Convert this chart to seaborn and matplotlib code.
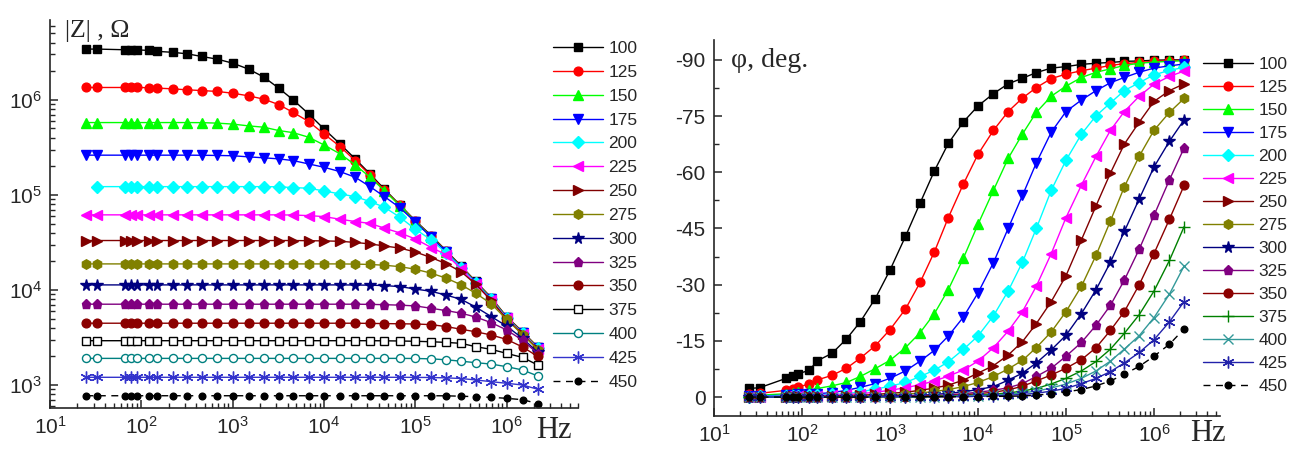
import numpy as np
import seaborn as sns
import matplotlib.pyplot as plt
from matplotlib.ticker import LogLocator, MultipleLocator, NullFormatter, FixedLocator

sns.set_style('ticks')
plt.rcParams['font.family'] = ['Liberation Sans', 'DejaVu Sans']
plt.rcParams['axes.unicode_minus'] = False

# measurement frequencies, Hz
freq_hz = [25, 33, 66, 78, 89, 120, 150, 220, 320, 460, 680, 1e3, 1.5e3, 2.2e3, 3.2e3, 4.6e3,
           6.8e3, 1e4, 1.5e4, 2.2e4, 3.2e4, 4.6e4, 6.8e4, 1e5, 1.5e5, 2.2e5, 3.2e5, 4.6e5,
           6.8e5, 1e6, 1.5e6, 2.2e6]

temps = ['100', '125', '150', '175', '200', '225', '250', '275', '300', '325', '350',
         '375', '400', '425', '450']

# log10 |Z| (Ohm)
log_z_100 = [6.534, 6.534, 6.527, 6.527, 6.526, 6.520, 6.510, 6.500, 6.484, 6.456, 6.428, 6.386,
             6.323, 6.239, 6.123, 6.000, 5.853, 5.695, 5.537, 5.379, 5.221, 5.060, 4.895, 4.730,
             4.572, 4.410, 4.250, 4.090, 3.920, 3.720, 3.560, 3.400]
log_z_125 = [6.130, 6.130, 6.130, 6.130, 6.130, 6.128, 6.123, 6.116, 6.105, 6.098, 6.088, 6.070,
             6.042, 6.007, 5.950, 5.868, 5.772, 5.642, 5.509, 5.361, 5.210, 5.050, 4.890, 4.725,
             4.565, 4.405, 4.245, 4.085, 3.915, 3.715, 3.555, 3.395]
log_z_150 = [5.761, 5.761, 5.761, 5.761, 5.761, 5.761, 5.761, 5.761, 5.761, 5.760, 5.755, 5.745,
             5.726, 5.712, 5.677, 5.655, 5.607, 5.526, 5.432, 5.316, 5.186, 5.045, 4.885, 4.720,
             4.560, 4.400, 4.240, 4.080, 3.910, 3.710, 3.550, 3.390]
log_z_175 = [5.418, 5.418, 5.418, 5.418, 5.418, 5.418, 5.418, 5.418, 5.418, 5.417, 5.415, 5.412,
             5.400, 5.390, 5.379, 5.361, 5.326, 5.291, 5.245, 5.186, 5.087, 4.982, 4.865, 4.715,
             4.555, 4.395, 4.235, 4.075, 3.905, 3.705, 3.545, 3.385]
log_z_200 = [np.nan, 5.087, 5.087, 5.087, 5.087, 5.087, 5.087, 5.087, 5.087, 5.087, 5.087, 5.087,
             5.087, 5.087, 5.085, 5.077, 5.070, 5.042, 5.010, 4.982, 4.930, 4.870, 4.765, 4.640,
             4.526, 4.386, 4.230, 4.070, 3.900, 3.705, 3.545, 3.385]
log_z_225 = [4.790, 4.790, 4.790, 4.790, 4.790, 4.790, 4.790, 4.790, 4.790, 4.790, 4.790, 4.790,
             4.790, 4.790, 4.790, 4.788, 4.782, 4.772, 4.744, 4.720, 4.700, 4.650, 4.600, 4.537,
             4.446, 4.370, 4.220, 4.060, 3.890, 3.700, 3.540, 3.380]
log_z_250 = [4.520, 4.520, 4.520, 4.520, 4.520, 4.520, 4.520, 4.520, 4.520, 4.520, 4.520, 4.520,
             4.520, 4.520, 4.520, 4.520, 4.518, 4.516, 4.512, 4.500, 4.484, 4.463, 4.440, 4.400,
             4.340, 4.275, 4.190, 4.060, 3.890, 3.695, 3.535, 3.378]
log_z_275 = [4.274, 4.274, 4.274, 4.274, 4.274, 4.274, 4.274, 4.274, 4.274, 4.274, 4.274, 4.274,
             4.274, 4.274, 4.274, 4.274, 4.274, 4.274, 4.274, 4.272, 4.268, 4.260, 4.245, 4.218,
             4.176, 4.123, 4.053, 3.965, 3.855, 3.690, 3.530, 3.372]
log_z_300 = [4.053, 4.053, 4.053, 4.053, 4.053, 4.053, 4.053, 4.053, 4.053, 4.053, 4.053, 4.053,
             4.053, 4.053, 4.053, 4.053, 4.053, 4.053, 4.053, 4.052, 4.050, 4.046, 4.035, 4.010,
             3.985, 3.945, 3.900, 3.820, 3.720, 3.620, 3.490, 3.345]
log_z_325 = [3.850, 3.850, 3.850, 3.850, 3.850, 3.850, 3.850, 3.850, 3.850, 3.850, 3.850, 3.850,
             3.850, 3.850, 3.850, 3.850, 3.850, 3.850, 3.850, 3.850, 3.848, 3.845, 3.840, 3.832,
             3.807, 3.782, 3.755, 3.715, 3.656, 3.580, 3.470, 3.330]
log_z_350 = [3.650, 3.650, 3.650, 3.650, 3.650, 3.650, 3.650, 3.650, 3.650, 3.650, 3.650, 3.650,
             3.650, 3.650, 3.650, 3.650, 3.650, 3.650, 3.650, 3.650, 3.648, 3.646, 3.644, 3.642,
             3.635, 3.614, 3.586, 3.560, 3.526, 3.480, 3.400, 3.300]
log_z_375 = [3.466, 3.466, 3.466, 3.466, 3.466, 3.466, 3.466, 3.466, 3.466, 3.466, 3.466, 3.466,
             3.466, 3.466, 3.466, 3.466, 3.466, 3.466, 3.466, 3.466, 3.466, 3.465, 3.463, 3.460,
             3.455, 3.448, 3.438, 3.403, 3.375, 3.333, 3.290, 3.210]
log_z_400 = [3.280, 3.280, 3.280, 3.280, 3.280, 3.280, 3.280, 3.280, 3.280, 3.280, 3.280, 3.280,
             3.280, 3.280, 3.280, 3.280, 3.280, 3.280, 3.280, 3.280, 3.280, 3.280, 3.280, 3.279,
             3.275, 3.265, 3.250, 3.235, 3.220, 3.193, 3.158, 3.095]
log_z_425 = [3.081, 3.081, 3.081, 3.081, 3.081, 3.081, 3.081, 3.081, 3.081, 3.081, 3.081, 3.081,
             3.081, 3.081, 3.081, 3.081, 3.081, 3.081, 3.081, 3.081, 3.081, 3.081, 3.081, 3.080,
             3.079, 3.075, 3.068, 3.053, 3.035, 3.018, 3.000, 2.955]
log_z_450 = [2.887, 2.887, 2.887, 2.887, 2.887, 2.887, 2.887, 2.887, 2.887, 2.887, 2.887, 2.887,
             2.887, 2.887, 2.887, 2.887, 2.887, 2.887, 2.887, 2.887, 2.887, 2.887, 2.887, 2.887,
             2.887, 2.886, 2.882, 2.877, 2.870, 2.860, 2.845, 2.805]

# phase angle magnitude (deg)
ph_100 = [2.3, 2.5, 5.0, 5.5, 6.2, 7.1, 9.7, 11.7, 15.5, 20.1, 26.3, 33.9, 42.9, 51.8, 60.4, 67.7,
          73.4, 77.7, 81.0, 83.6, 85.1, 86.6, 87.8, 88.2, 88.8, 89.1, 89.3, 89.6, 89.7, 89.9, 90.0, 90.0]
ph_125 = [0.8, 1.0, 1.8, 2.2, 2.6, 3.5, 4.6, 5.8, 7.7, 10.4, 13.7, 18.0, 23.5, 30.6, 38.8, 47.9,
          56.8, 64.8, 71.2, 76.2, 79.8, 82.6, 85.0, 86.2, 87.1, 87.8, 88.5, 89.0, 89.3, 89.6, 89.8, 89.9]
ph_150 = [0.3, 0.5, 0.9, 1.1, 1.3, 1.8, 2.3, 3.0, 3.9, 5.5, 7.6, 9.8, 13.2, 17.2, 22.3, 28.7,
          37.0, 46.1, 55.2, 63.7, 70.2, 76.0, 80.3, 83.0, 85.3, 86.7, 87.6, 88.5, 89.1, 89.4, 89.6, 89.8]
ph_175 = [0.2, 0.3, 0.5, 0.6, 0.7, 0.8, 0.9, 1.2, 1.8, 2.6, 3.6, 5.0, 7.0, 9.6, 12.5, 16.3,
          21.3, 27.8, 35.9, 45.0, 53.8, 62.5, 70.7, 76.2, 79.3, 81.8, 83.9, 85.3, 86.7, 87.8, 88.4, 88.9]
ph_200 = [0.1, 0.2, 0.3, 0.3, 0.4, 0.5, 0.6, 0.7, 0.9, 1.4, 2.1, 2.9, 3.9, 5.5, 7.2, 9.4,
          12.7, 16.3, 21.7, 28.3, 36.0, 45.0, 55.2, 63.2, 70.2, 75.1, 78.5, 81.8, 83.9, 86.0, 87.2, 88.0]
ph_225 = [0.1, 0.1, 0.2, 0.2, 0.3, 0.3, 0.4, 0.5, 0.7, 0.9, 1.3, 1.8, 2.5, 3.3, 4.3, 5.6,
          7.2, 9.6, 13.2, 17.6, 22.8, 29.6, 38.3, 47.9, 56.6, 64.3, 71.2, 76.2, 80.3, 83.5, 85.6, 87.0]
ph_250 = [0.1, 0.1, 0.1, 0.2, 0.2, 0.2, 0.2, 0.3, 0.4, 0.5, 0.7, 1.0, 1.3, 1.8, 2.4, 3.2,
          4.5, 6.4, 8.4, 11.2, 14.8, 19.6, 25.5, 32.4, 42.0, 51.1, 59.8, 67.5, 73.4, 78.9, 81.8, 83.6]
ph_275 = [0.0, 0.1, 0.1, 0.1, 0.1, 0.1, 0.1, 0.1, 0.2, 0.3, 0.4, 0.6, 0.8, 1.1, 1.5, 2.0,
          2.8, 3.9, 5.5, 7.5, 9.8, 13.2, 17.4, 22.8, 29.6, 37.9, 47.0, 56.1, 64.3, 71.2, 76.0, 79.7]
ph_300 = [0.0, 0.0, 0.1, 0.1, 0.1, 0.1, 0.1, 0.1, 0.1, 0.1, 0.2, 0.3, 0.4, 0.5, 0.7, 1.0,
          1.4, 2.0, 2.8, 4.5, 6.4, 9.1, 12.6, 16.5, 22.3, 28.7, 36.0, 44.2, 52.9, 61.4, 68.3, 74.0]
ph_325 = [0.0, 0.0, 0.0, 0.1, 0.1, 0.1, 0.1, 0.1, 0.1, 0.1, 0.1, 0.1, 0.2, 0.3, 0.4, 0.6,
          0.9, 1.3, 1.8, 2.5, 3.6, 5.5, 7.7, 10.9, 14.6, 19.2, 24.5, 31.2, 39.5, 48.5, 58.0, 66.5]
ph_350 = [0.0, 0.0, 0.0, 0.0, 0.1, 0.1, 0.1, 0.1, 0.1, 0.1, 0.1, 0.1, 0.1, 0.2, 0.3, 0.4,
          0.6, 0.9, 1.3, 1.9, 2.9, 4.3, 5.9, 7.7, 10.0, 13.2, 17.8, 22.8, 30.0, 38.3, 47.5, 56.5]
ph_375 = [0.0, 0.0, 0.0, 0.0, 0.0, 0.0, 0.1, 0.1, 0.1, 0.1, 0.1, 0.1, 0.1, 0.1, 0.2, 0.3,
          0.4, 0.5, 0.8, 1.1, 1.6, 2.3, 3.5, 5.0, 7.0, 9.5, 12.8, 17.0, 22.0, 28.3, 36.5, 45.5]
ph_400 = [0.0, 0.0, 0.0, 0.0, 0.0, 0.0, 0.0, 0.1, 0.1, 0.1, 0.1, 0.1, 0.1, 0.1, 0.1, 0.2,
          0.3, 0.4, 0.5, 0.8, 1.1, 1.6, 2.4, 3.5, 5.0, 7.0, 9.6, 12.8, 16.4, 21.2, 27.5, 35.0]
ph_425 = [0.0, 0.0, 0.0, 0.0, 0.0, 0.0, 0.0, 0.0, 0.0, 0.1, 0.1, 0.1, 0.1, 0.1, 0.1, 0.1,
          0.1, 0.2, 0.3, 0.5, 0.7, 1.0, 1.6, 2.3, 3.6, 5.0, 6.8, 9.1, 11.9, 15.3, 20.1, 25.5]
ph_450 = [0.0, 0.0, 0.0, 0.0, 0.0, 0.0, 0.0, 0.0, 0.0, 0.0, 0.0, 0.1, 0.1, 0.1, 0.1, 0.1,
          0.1, 0.1, 0.2, 0.2, 0.3, 0.5, 0.9, 1.4, 2.0, 3.0, 4.3, 6.1, 8.2, 10.9, 14.1, 18.2]

log_z = [log_z_100, log_z_125, log_z_150, log_z_175, log_z_200, log_z_225, log_z_250, log_z_275,
         log_z_300, log_z_325, log_z_350, log_z_375, log_z_400, log_z_425, log_z_450]
phase = [ph_100, ph_125, ph_150, ph_175, ph_200, ph_225, ph_250, ph_275, ph_300, ph_325, ph_350,
         ph_375, ph_400, ph_425, ph_450]

ast = (6, 2, 0)
# (colour, marker, face, size) for each temperature
common = [('#000000', 's', None, 5.8), ('#FF0000', 'o', None, 6.3), ('#00FF00', '^', None, 6.8),
          ('#0000FF', 'v', None, 6.8), ('#00FFFF', 'D', None, 5.8), ('#FF00FF', '<', None, 6.8),
          ('#800000', '>', None, 6.8), ('#808000', 'h', None, 6.8), ('#000080', '*', None, 8.5),
          ('#800080', 'p', None, 6.8), ('#8B0000', 'o', None, 6.3)]
left_styles = common + [('#000000', 's', 'white', 5.8), ('#008080', 'o', 'white', 5.8),
                        ('#3333CC', ast, None, 8.5), ('#000000', 'o', None, 4.8)]
right_styles = common + [('#008000', '+', None, 8.5), ('#339999', 'x', None, 7.5),
                         ('#2222AA', ast, None, 8.5), ('#000000', 'o', None, 4.8)]

W, H = 1295, 450
fig = plt.figure(figsize=(W / 100, H / 100), dpi=100)
ax1 = fig.add_axes([50 / W, 1 - 408 / H, 528 / W, 388 / H])
ax2 = fig.add_axes([714 / W, 1 - 416 / H, 506 / W, 376 / H])


def draw(ax, series, styles):
    for lab, y, (c, m, fc, ms) in zip(temps, series, styles):
        ls = (0, (5, 4)) if lab == '450' else '-'
        sns.lineplot(x=freq_hz, y=y, ax=ax, color=c, marker=m, markersize=ms,
                     markerfacecolor=fc if fc else c, markeredgecolor=c, markeredgewidth=1,
                     linestyle=ls, linewidth=1, label=lab, estimator=None, sort=False)


draw(ax1, [10 ** np.array(v) for v in log_z], left_styles)
draw(ax2, [-np.array(v) for v in phase], right_styles)

for ax in (ax1, ax2):
    ax.set_xscale('log')
    ax.xaxis.set_major_locator(LogLocator(base=10, numticks=12))
    ax.xaxis.set_minor_locator(LogLocator(base=10, subs=np.arange(2, 10), numticks=12))
    ax.xaxis.set_minor_formatter(NullFormatter())
    ax.tick_params(which='major', direction='in', length=6, width=1.1, labelsize=15, pad=6)
    ax.tick_params(which='minor', direction='in', length=3.5, width=1)
    for s in ('top', 'right'):
        ax.spines[s].set_visible(False)
    for s in ('left', 'bottom'):
        ax.spines[s].set_linewidth(1.2)
    ax.set_xlabel('')
    ax.set_ylabel('')

ax1.set_yscale('log')
ax1.set_xlim(10, 10 ** 6.783)
ax1.set_ylim(10 ** 2.758, 10 ** 6.84)
ax1.yaxis.set_major_locator(FixedLocator([1e3, 1e4, 1e5, 1e6]))
ax1.yaxis.set_minor_locator(LogLocator(base=10, subs=np.arange(2, 10), numticks=12))
ax1.yaxis.set_minor_formatter(NullFormatter())

ax2.set_xlim(10, 10 ** 6.75)
ax2.set_ylim(5.05, -95.3)
ax2.set_yticks([0, -15, -30, -45, -60, -75, -90])
ax2.yaxis.set_minor_locator(MultipleLocator(7.5))

leg_kw = dict(loc='upper left', bbox_transform=fig.transFigure, frameon=False, fontsize=12.5,
              handlelength=2.9, handletextpad=0.3, borderaxespad=0, borderpad=0)
ax1.legend(bbox_to_anchor=(553 / W, 1 - 41 / H), labelspacing=0.5, **leg_kw)
ax2.legend(bbox_to_anchor=(1203 / W, 1 - 57 / H), labelspacing=0.45, **leg_kw)

serif = ['Liberation Serif', 'DejaVu Serif']
fig.text(65 / W, 1 - 37 / H, '|Z| , Ω', family=serif, fontsize=18.5, va='baseline')
fig.text(731 / W, 1 - 67 / H, 'φ, deg.', family=serif, fontsize=20, va='baseline')
fig.text(536 / W, 1 - 438 / H, 'Hz', family=serif, fontsize=22, va='baseline')
fig.text(1190 / W, 1 - 441 / H, 'Hz', family=serif, fontsize=22, va='baseline')

fig.savefig('out.png', dpi=100)
